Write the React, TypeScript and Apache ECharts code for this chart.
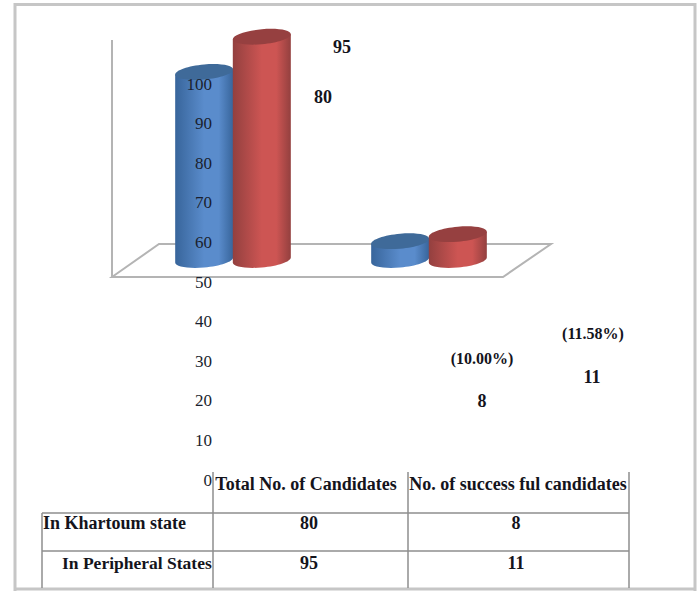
import React, { useEffect, useRef } from "react";
import * as echarts from "echarts";

const WIDTH = 698;
const HEIGHT = 591;

const groupLabels = ["Total No. of Candidates", "No. of success ful candidates"];
const rowLabels = ["In Khartoum state", "In Peripheral States"];
const khartoumValues = [80, 8];
const peripheralValues = [95, 11];
const percentLabels = ["(10.00%)", "(11.58%)"];
const axisTicks = [0, 10, 20, 30, 40, 50, 60, 70, 80, 90, 100];

const SERIF = '"Liberation Serif", "Times New Roman", serif';
const FRAME = "#c6c6c6";
const RULE = "#8e8e8e";
const FLOOR = "#b4b4b4";

// Lateral pieces of a tilted elliptical cylinder, as SVG path data.
function ellipseArc(cx: number, cy: number, u: number[], v: number[], from: number, to: number) {
  // One quarter-turn cubic per step between the angles, in quarters of a turn.
  const k = 0.5523;
  const pt = (a: number, b: number) => [cx + u[0] * a + v[0] * b, cy + u[1] * a + v[1] * b];
  const dirs = [[1, 0], [0, 1], [-1, 0], [0, -1]];
  let d = "";
  const step = to > from ? 1 : -1;
  for (let i = from; i !== to; i += step) {
    const s = dirs[((i % 4) + 4) % 4];
    const e = dirs[(((i + step) % 4) + 4) % 4];
    const c1 = pt(s[0] + k * e[0], s[1] + k * e[1]);
    const c2 = pt(e[0] + k * s[0], e[1] + k * s[1]);
    const p = pt(e[0], e[1]);
    d += ` C ${c1[0]} ${c1[1]} ${c2[0]} ${c2[1]} ${p[0]} ${p[1]}`;
  }
  return d;
}

function cylinderItem(offsetRatio: number, stops: string[], capColor: string) {
  return (params: any, api: any) => {
    const cat = api.value(0);
    const top = api.coord([cat, api.value(1)]);
    const base = api.coord([cat, 0]);
    const band = api.size([1, 0])[0];
    const halfW = band * 0.148;
    const cx = top[0] + band * offsetRatio;
    const u = [halfW, -2.5];
    const v = [0, -7.5];
    const left = (y: number) => [cx - u[0], y - u[1]];
    const right = (y: number) => [cx + u[0], y + u[1]];
    const l0 = left(top[1]);
    const l1 = left(base[1]);
    const r0 = right(top[1]);
    const body =
      `M ${l0[0]} ${l0[1]} L ${l1[0]} ${l1[1]}` +
      ellipseArc(cx, base[1], u, v, 2, 4) +
      ` L ${r0[0]} ${r0[1]} Z`;
    const cap = `M ${r0[0]} ${r0[1]}` + ellipseArc(cx, top[1], u, v, 0, 4) + " Z";
    return {
      type: "group",
      children: [
        {
          type: "path",
          shape: { pathData: body },
          style: {
            fill: new echarts.graphic.LinearGradient(0, 0, 1, 0, [
              { offset: 0, color: stops[0] },
              { offset: 0.5, color: stops[1] },
              { offset: 0.75, color: stops[1] },
              { offset: 1, color: stops[0] },
            ]),
          },
        },
        { type: "path", shape: { pathData: cap }, style: { fill: capColor } },
      ],
    };
  };
}

function line(x1: number, y1: number, x2: number, y2: number, stroke: string, lineWidth: number) {
  return { type: "line", shape: { x1, y1, x2, y2 }, style: { stroke, lineWidth } };
}

function label(text: string, x: number, y: number, align = "center", size = 18) {
  return {
    type: "text",
    x,
    y,
    style: {
      text,
      fill: "#14141c",
      font: `bold ${size}px ${SERIF}`,
      align,
      verticalAlign: "middle",
    },
  };
}

export default function App() {
  const ref = useRef<HTMLDivElement>(null);

  useEffect(() => {
    const chart = echarts.init(ref.current!, undefined, { renderer: "svg" });
    chart.setOption({
      animation: false,
      backgroundColor: "#ffffff",
      grid: [
        { left: 135, top: 25, width: 392, height: 235 },
        { left: 216, top: 84, width: 400, height: 396 },
      ],
      xAxis: [
        { type: "category", gridIndex: 0, data: groupLabels, show: false },
        { type: "category", gridIndex: 1, data: groupLabels, show: false },
      ],
      yAxis: [
        { type: "value", gridIndex: 0, min: 0, max: 100, show: false },
        {
          type: "value",
          gridIndex: 1,
          min: axisTicks[0],
          max: axisTicks[axisTicks.length - 1],
          interval: 10,
          z: 6,
          axisLine: { show: false },
          axisTick: { show: false },
          splitLine: { show: false },
          axisLabel: { color: "#1a1f2e", fontFamily: SERIF, fontSize: 17, margin: 4 },
        },
      ],
      series: [
        {
          type: "custom",
          name: rowLabels[0],
          xAxisIndex: 0,
          yAxisIndex: 0,
          z: 3,
          clip: false,
          renderItem: cylinderItem(-0.147, ["#38659b", "#5a8ccc"], "#3f6a99"),
          data: khartoumValues.map((v, i) => [i, v]),
          encode: { x: 0, y: 1 },
        },
        {
          type: "custom",
          name: rowLabels[1],
          xAxisIndex: 0,
          yAxisIndex: 0,
          z: 4,
          clip: false,
          renderItem: cylinderItem(0.147, ["#93403f", "#cd5553"], "#964040"),
          data: peripheralValues.map((v, i) => [i, v]),
          encode: { x: 0, y: 1 },
        },
      ],
      graphic: {
        elements: [
          // Page frame
          line(15, 4.5, 695, 4.5, FRAME, 3),
          line(15, 3, 15, 591, FRAME, 3),
          line(695, 3, 695, 591, FRAME, 3),
          line(15, 589, 695, 589, FRAME, 3),
          // Back wall edge and floor of the 3D plot
          line(112, 40, 112, 277, FLOOR, 2),
          {
            type: "polygon",
            shape: { points: [[112, 277], [159, 244], [551, 244], [503, 277]] },
            style: { fill: "#ffffff", stroke: FLOOR, lineWidth: 2 },
          },
          // Data table under the plot
          line(213, 472, 213, 588, RULE, 1.5),
          line(408, 472, 408, 588, RULE, 1.5),
          line(629, 472, 629, 588, RULE, 1.5),
          line(42, 513, 42, 588, RULE, 1.5),
          line(42, 513, 629, 513, RULE, 1.5),
          line(42, 551, 629, 551, RULE, 1.5),
          label(groupLabels[0], 306, 484),
          label(groupLabels[1], 518, 484),
          label(rowLabels[0], 43, 523, "left"),
          label(rowLabels[1], 62, 563, "left", 17.5),
          label(String(khartoumValues[0]), 309, 523),
          label(String(khartoumValues[1]), 516, 523),
          label(String(peripheralValues[0]), 309, 563),
          label(String(peripheralValues[1]), 516, 563),
          // Value captions beside the plot
          label(String(peripheralValues[0]), 342, 47),
          label(String(khartoumValues[0]), 323, 97),
          label(String(khartoumValues[1]), 482, 401),
          label(String(peripheralValues[1]), 592, 377),
          label(percentLabels[0], 482, 358, "center", 16),
          label(percentLabels[1], 593, 333, "center", 16),
        ],
      },
    });
    return () => chart.dispose();
  }, []);

  return (
    <div
      ref={ref}
      style={{ position: "absolute", left: 0, top: 0, width: WIDTH, height: HEIGHT }}
    />
  );
}
